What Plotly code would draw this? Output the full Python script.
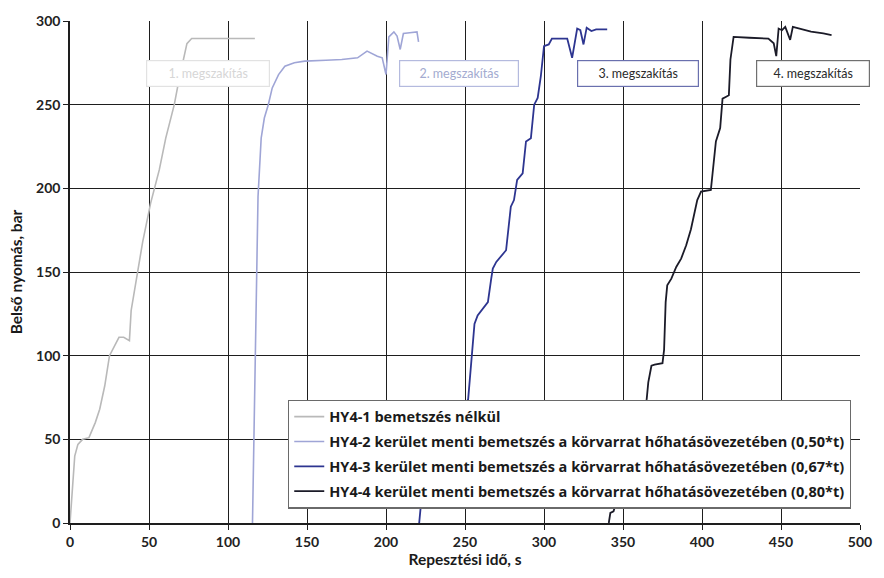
import plotly.graph_objects as go

# Pressure vs. time for the four burst tests
hy41_t = [0, 1, 3, 5, 8, 12, 16, 18.8, 22, 25, 31, 34, 37.6, 38.7, 43, 46, 51, 56.5, 60.6, 66, 69, 72, 74, 77, 95, 117]
hy41_p = [0, 12, 40, 47, 50, 51, 60, 68, 82, 100, 111, 111, 109, 127, 150, 168, 191, 211, 230, 250, 265, 279, 286.5, 289.5, 289.5, 289.5]

hy42_t = [115.5, 116, 117, 118, 119, 121, 123, 125.5, 128, 132, 136, 142, 148.5, 162, 172, 182, 188, 194.5, 197.6, 200,
          201.8, 205, 207, 209, 211, 215, 219.6, 220.6]
hy42_p = [0, 30, 100, 150, 195, 230, 242, 250, 260, 268, 273, 275, 276, 276.5, 277, 278, 282, 279, 278, 268,
          290.5, 293.5, 291, 283, 292.5, 293, 293.5, 287.5]

hy43_t = [221, 222, 252, 254, 256, 258, 262, 264.5, 266.6, 267.6, 269.8, 274, 276, 279, 281, 283, 286.5, 288.6, 291.7,
          293.8, 296, 298, 300, 303, 305, 314.7, 317.8, 321, 323, 325, 327, 330, 333, 340]
hy43_p = [0, 10, 74, 98, 119, 124, 129, 132, 146, 152, 156, 161, 163, 189, 193, 205, 209, 228, 230,
          250, 254, 267, 285, 286, 289.5, 289.5, 278, 295.5, 294.5, 286, 296, 294, 295, 295]

hy44_t = [341, 342, 344, 345, 365, 366, 368, 370, 375, 376, 377, 378, 380.6, 383.7, 386.8, 390, 393, 397, 399.4, 405.6,
          406.7, 408.8, 411.5, 413, 415, 417, 418, 420, 430, 442, 445.4, 447, 448.5, 450.6, 452.7, 455.8, 457.5,
          462, 469, 476.8, 482]
hy44_p = [0, 6, 7, 10, 74, 84, 94, 94.7, 95.5, 103.5, 132, 142, 146, 153, 158, 166, 175.6, 193, 198, 199,
          209, 228, 236, 253.6, 254.6, 255.6, 277, 290.5, 290, 289.5, 286.7, 279, 295.5, 294.5, 296.5, 288.7, 296.5,
          295.5, 293.6, 292.6, 291.6]

series_names = [
    "HY4-1 bemetszés nélkül",
    "HY4-2 kerület menti bemetszés a körvarrat hőhatásövezetében (0,50*t)",
    "HY4-3 kerület menti bemetszés a körvarrat hőhatásövezetében (0,67*t)",
    "HY4-4 kerület menti bemetszés a körvarrat hőhatásövezetében (0,80*t)",
]
series_colors = ["#b9b9b9", "#9fa5d6", "#2d3590", "#1b1b28"]

break_labels = ["1. megszakítás", "2. megszakítás", "3. megszakítás", "4. megszakítás"]
break_t = [87.5, 246.2, 359.5, 470.0]
break_p = [268.7, 268.7, 268.7, 268.7]

x_ticks = list(range(0, 501, 50))
y_ticks = list(range(0, 301, 50))

FONT = "Lato"
LEGEND_FONT = "Open Sans"

fig = go.Figure()
for i, (t, p) in enumerate([(hy41_t, hy41_p), (hy42_t, hy42_p), (hy43_t, hy43_p), (hy44_t, hy44_p)]):
    fig.add_trace(go.Scatter(
        x=t, y=p, mode="lines", name=series_names[i],
        legendgroup=f"g{i}",
        line=dict(color=series_colors[i], width=1.8 if i >= 2 else 1.6),
    ))

box_styles = [
    dict(text_color="#d6d6d6", border="#e2e2e2"),
    dict(text_color="#a3abd0", border="#b4bade"),
    dict(text_color="#2a2a2a", border="#6a70ae"),
    dict(text_color="#2a2a2a", border="#707070"),
]
box_widths = [114, 110, 112, 104]
for lab, t, p, st, w in zip(break_labels, break_t, break_p, box_styles, box_widths):
    fig.add_annotation(
        x=t, y=p, xref="x", yref="y", text=lab, showarrow=False,
        font=dict(family=FONT, size=12.5, color=st["text_color"]),
        bgcolor="white", bordercolor=st["border"], borderwidth=1.2,
        borderpad=4, width=w, height=17,
    )

grid = "#1e1e1e"
fig.update_layout(
    width=884, height=578,
    margin=dict(l=70, r=17, t=14, b=51),
    paper_bgcolor="white", plot_bgcolor="white",
    font=dict(family=FONT, color="#222222"),
    showlegend=True,
    legend=dict(
        x=0.276, y=0.246, xanchor="left", yanchor="top",
        bgcolor="white", bordercolor="#6a6a6a", borderwidth=1.2,
        font=dict(family=LEGEND_FONT, size=14.5, color="#1a1a1a", weight="bold"),
        tracegroupgap=3, itemwidth=30,
    ),
    xaxis=dict(
        range=[0, 500], tickvals=x_ticks, ticks="outside", ticklen=5, tickcolor=grid,
        showgrid=True, gridcolor=grid, gridwidth=1.3,
        showline=True, linecolor=grid, linewidth=1.5, mirror=False, zeroline=False,
        tickfont=dict(family=FONT, size=14, color="#222222", weight="bold"),
        title=dict(text="Repesztési idő, s", standoff=6,
                   font=dict(family=FONT, size=15.5, color="#1a1a1a", weight="bold")),
    ),
    yaxis=dict(
        range=[0, 300], tickvals=y_ticks, ticks="outside", ticklen=5, tickcolor=grid,
        showgrid=True, gridcolor=grid, gridwidth=1.3,
        showline=True, linecolor=grid, linewidth=1.5, zeroline=False,
        tickfont=dict(family=FONT, size=14, color="#222222", weight="bold"),
        title=dict(text="Belső nyomás, bar", standoff=10,
                   font=dict(family=FONT, size=15.5, color="#1a1a1a", weight="bold")),
    ),
)

fig.write_html("out.html")
